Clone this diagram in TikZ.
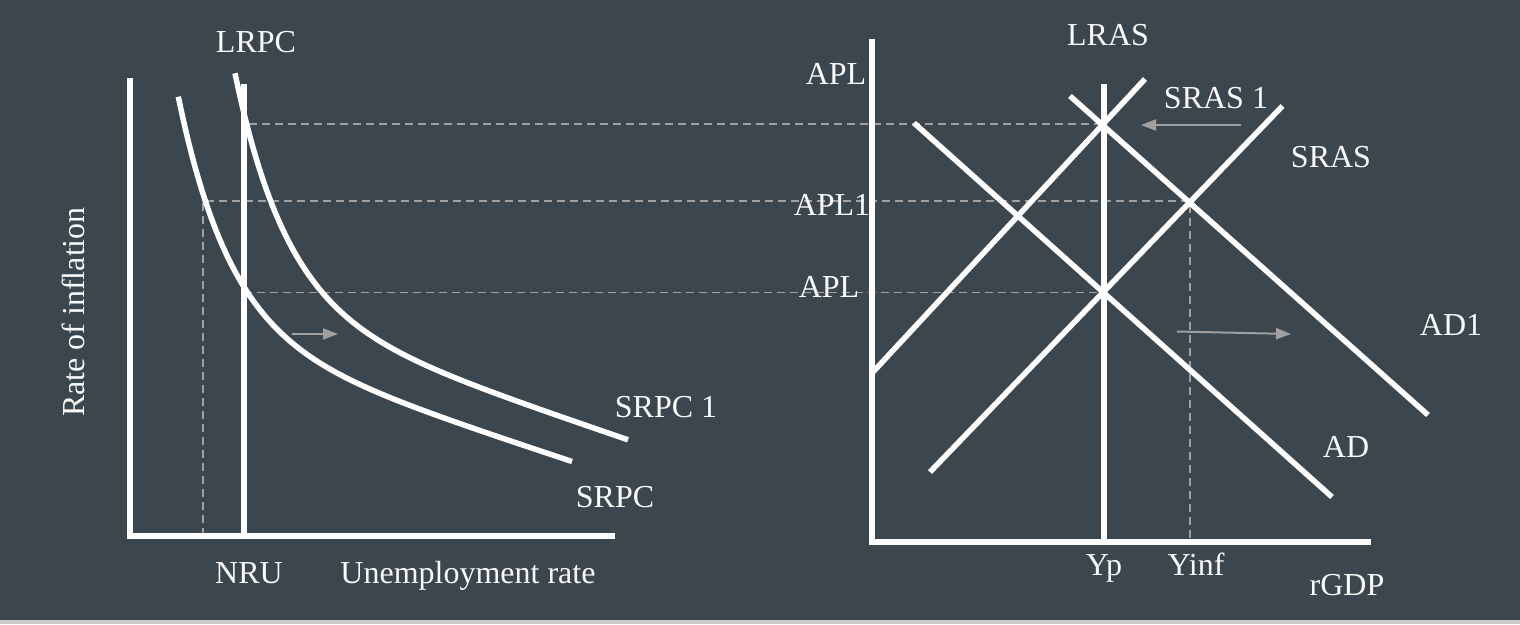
\documentclass[tikz,border=0pt]{standalone}
\usepackage{fontspec}
\setmainfont{Liberation Serif}
\usetikzlibrary{arrows.meta}
\definecolor{bg}{RGB}{59,70,78}
\definecolor{barc}{RGB}{204,204,204}
\definecolor{dashc}{RGB}{160,160,160}
\definecolor{txt}{RGB}{250,250,250}
\begin{document}
\begin{tikzpicture}[x=1pt,y=-1pt,
  curve/.style={white,line width=5.5pt},
  axis/.style={white,line width=6pt},
  guide/.style={dashc,line width=1.5pt,dash pattern=on 8pt off 5pt},
  shiftarrow/.style={dashc,line width=2pt,-{Triangle[length=15pt,width=11pt]}},
  lbl/.style={text=txt,inner sep=0pt,anchor=base,font=\fontsize{32}{38}\selectfont}]
\fill[bg] (0,0) rectangle (1520,624);
\fill[barc] (0,620) rectangle (1520,624);
\useasboundingbox (0,0) rectangle (1520,624);

% ---------- coordinates ----------
\coordinate (lyTop) at (129.5,78);
\coordinate (lO) at (129.5,536);
\coordinate (lxEnd) at (615,536);
\coordinate (lrpcT) at (244,84);
\coordinate (lrpcB) at (244,536);

\coordinate (ryTop) at (872,39);
\coordinate (rO) at (872,541.5);
\coordinate (rxEnd) at (1371,541.5);
\coordinate (lrasT) at (1103.5,84);
\coordinate (lrasB) at (1103.5,541.5);

\coordinate (sras1A) at (873,372);
\coordinate (sras1B) at (1145,79);
\coordinate (srasA) at (930,472);
\coordinate (srasB) at (1282.5,106);
\coordinate (ad1A) at (1070,96);
\coordinate (ad1B) at (1428,415);
\coordinate (adA) at (914,123);
\coordinate (adB) at (1332,497);

\coordinate (E0) at (1103.5,124);
\coordinate (E1) at (1190,201);
\coordinate (E2) at (1103.5,292.5);
\coordinate (g0) at (249,124);
\coordinate (g1) at (203,201);
\coordinate (g1b) at (203,536);
\coordinate (g2) at (244,292.5);
\coordinate (E1b) at (1190,541.5);

\coordinate (a1s) at (292,334);
\coordinate (a1e) at (338,334);
\coordinate (a2s) at (1241,125);
\coordinate (a2e) at (1141,125);
\coordinate (a3s) at (1177,331.5);
\coordinate (a3e) at (1291,334);

% ---------- dashed guides ----------
\draw[guide] (g0) -- (E0);
\draw[guide] (g1b) -- (g1) -- (E1) -- (E1b);
\draw[guide] (g2) -- (E2);

% ---------- left graph ----------
\draw[axis] (lyTop) -- (lO) -- (lxEnd);
\draw[axis,line width=6.5pt] (lrpcT) -- (lrpcB);
% SRPC
\draw[curve] plot[domain=0:393.7,samples=160,smooth]
  ({178.3+\x},{96.7+0.33*\x+235*(1-exp(-\x/52))});
% SRPC 1
\draw[curve] plot[domain=0:393,samples=160,smooth]
  ({235+\x},{73.3+0.34*\x+233*(1-exp(-\x/52))});
\draw[shiftarrow] (a1s) -- (a1e);

% ---------- right graph ----------
\draw[axis] (ryTop) -- (rO) -- (rxEnd);
\draw[axis] (lrasT) -- (lrasB);
\draw[curve] (sras1A) -- (sras1B);
\draw[curve] (srasA) -- (srasB);
\draw[curve] (ad1A) -- (ad1B);
\draw[curve] (adA) -- (adB);
\draw[shiftarrow] (a2s) -- (a2e);
\draw[shiftarrow] (a3s) -- (a3e);

% ---------- labels ----------
\node[lbl] (tLRPC) at (256,52) {LRPC};
\node[lbl,rotate=90,anchor=center] (tRate) at (73.5,312) {Rate of inflation};
\node[lbl] (tNRU) at (249,583) {NRU};
\node[lbl] (tUnemp) at (468,583) {Unemployment rate};
\node[lbl] (tSRPC1) at (666,417) {SRPC 1};
\node[lbl] (tSRPC) at (615,507) {SRPC};

\node[lbl] (tLRAS) at (1108,45) {LRAS};
\node[lbl] (tAPLtop) at (836,84) {APL};
\node[lbl] (tSRAS1) at (1216,108) {SRAS 1};
\node[lbl] (tSRAS) at (1331,167) {SRAS};
\node[lbl] (tAPL1) at (832,215) {APL1};
\node[lbl] (tAPL) at (829,297) {APL};
\node[lbl] (tAD1) at (1451,335) {AD1};
\node[lbl] (tAD) at (1346,457) {AD};
\node[lbl] (tYp) at (1104,575) {Yp};
\node[lbl] (tYinf) at (1196,575) {Yinf};
\node[lbl] (tGDP) at (1347,595) {rGDP};
\end{tikzpicture}
\end{document}
